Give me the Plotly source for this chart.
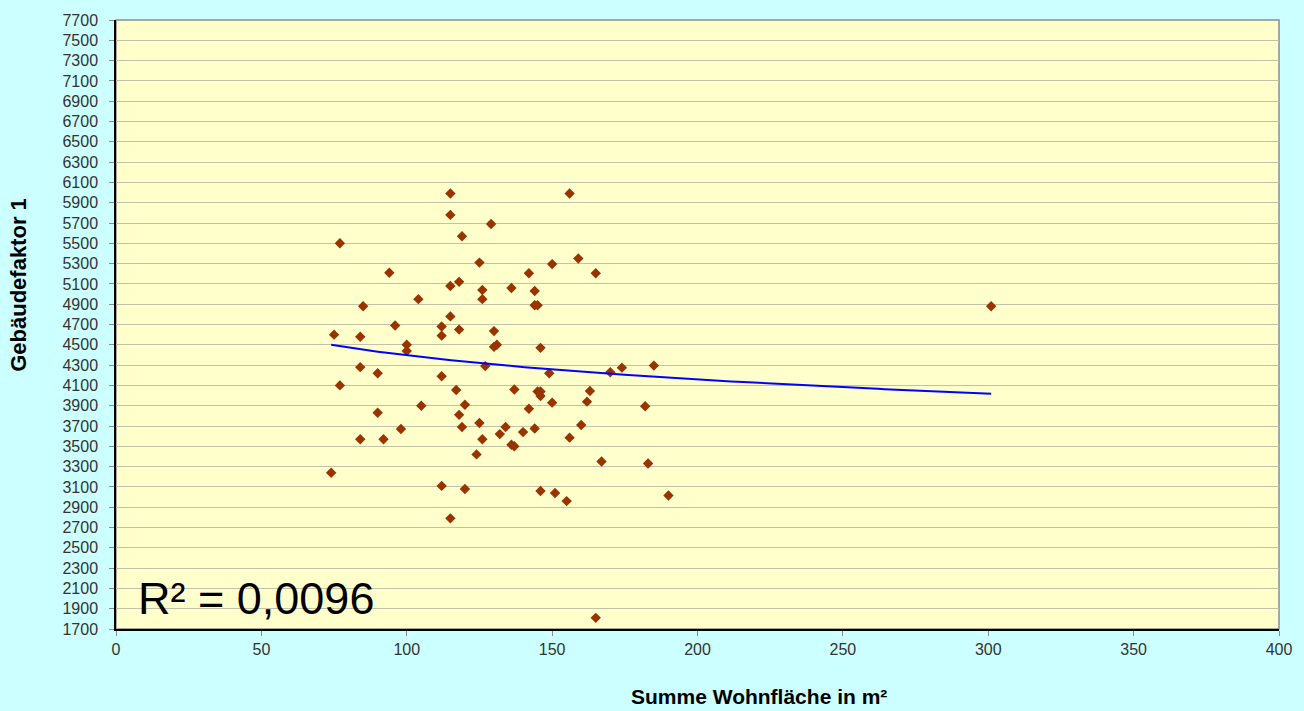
import numpy as np
import plotly.graph_objects as go

# Summe Wohnfläche in m² vs. Gebäudefaktor 1
wohnflaeche = [74, 75, 77, 77, 84, 84, 84, 85, 90, 90,
               92, 94, 96, 98, 100, 100, 104, 105, 112, 112,
               112, 112, 115, 115, 115, 115, 115, 118, 118, 117,
               118, 119, 119, 120, 120, 124, 125, 125, 126, 126,
               126, 127, 129, 130, 130, 131, 132, 134, 136, 136,
               137, 137, 140, 142, 142, 144, 144, 145, 144, 146,
               145, 146, 146, 146, 149, 150, 150, 151, 155, 156,
               156, 159, 160, 162, 163, 165, 165, 167, 170, 174,
               182, 183, 185, 190, 301]
gebaeudefaktor = [3240, 4600, 5500, 4100, 4580, 4280, 3570, 4880, 4220, 3830,
                  3570, 5210, 4690, 3670, 4500, 4440, 4950, 3900, 4680, 4590,
                  4190, 3110, 5990, 5780, 5080, 4780, 2790, 5120, 4650, 4055,
                  3810, 3690, 5570, 3910, 3080, 3420, 5310, 3730, 5040, 4950,
                  3570, 4290, 5690, 4635, 4480, 4500, 3620, 3690, 5060, 3515,
                  3500, 4060, 3640, 5205, 3870, 5030, 4890, 4890, 3675, 4470,
                  4040, 4040, 3995, 3060, 4220, 5295, 3930, 3040, 2960, 5990,
                  3585, 5350, 3710, 3940, 4045, 5205, 1810, 3350, 4230, 4275,
                  3895, 3330, 4295, 3015, 4880]

# logarithmic trendline y = a + b*ln(x), coefficients
trend_a = 5976
trend_b = -343
trend_range = [74, 301]
r2_text = "R² = 0,0096"

font = 'Liberation Sans, Arial, sans-serif'

trend_x = np.linspace(trend_range[0], trend_range[1], 100)
trend_y = trend_a + trend_b * np.log(trend_x)

fig = go.Figure()
fig.add_trace(go.Scatter(x=wohnflaeche, y=gebaeudefaktor, mode='markers',
                         marker=dict(symbol='diamond', size=8, color='#993300'),
                         showlegend=False))
fig.add_trace(go.Scatter(x=trend_x, y=trend_y, mode='lines',
                         line=dict(color='#0000FF', width=2), showlegend=False))

fig.add_annotation(x=7, y=2000, xref='x', yref='y', text=r2_text, showarrow=False,
                   xanchor='left', yanchor='middle',
                   font=dict(family=font, size=45, color='#000000'))

# axis titles placed like in the original
fig.add_annotation(x=-0.0837, y=0.5646, xref='paper', yref='paper', text='Gebäudefaktor 1',
                   showarrow=False, textangle=-90, xanchor='center', yanchor='middle',
                   font=dict(family=font, size=22, color='#000000', weight='bold'))
fig.add_annotation(x=0.553, y=-0.111, xref='paper', yref='paper', text='Summe Wohnfläche in m²',
                   showarrow=False, xanchor='center', yanchor='middle',
                   font=dict(family=font, size=21, color='#000000', weight='bold'))

# gray border of the plot area (top and right)
fig.add_shape(type='rect', xref='paper', yref='paper', x0=0, y0=0, x1=1, y1=1,
              line=dict(color='#8C8C8C', width=1.5), layer='below')

fig.update_xaxes(range=[0, 400], dtick=50, showgrid=False, zeroline=False,
                 showline=True, linecolor='#000000', linewidth=1.5,
                 ticks='outside', ticklen=5, tickcolor='#8C8C8C', ticklabelstandoff=0,
                 tickfont=dict(family=font, size=16, color='#333333'))
fig.update_yaxes(range=[1700, 7700], dtick=200, tick0=1700, showgrid=True,
                 gridcolor='#C2C2A8', gridwidth=1.2, zeroline=False,
                 showline=True, linecolor='#000000', linewidth=1.5,
                 ticks='outside', ticklen=5, tickcolor='#8C8C8C', ticklabelstandoff=8,
                 tickfont=dict(family=font, size=16, color='#333333'))

fig.update_layout(width=1304, height=711,
                  paper_bgcolor='#CCFFFF', plot_bgcolor='#FFFFCC',
                  margin=dict(l=116, r=23, t=18, b=82),
                  showlegend=False)

fig.write_html("out.html", config={'displayModeBar': False},
               post_script="document.body.style.margin='0';")
